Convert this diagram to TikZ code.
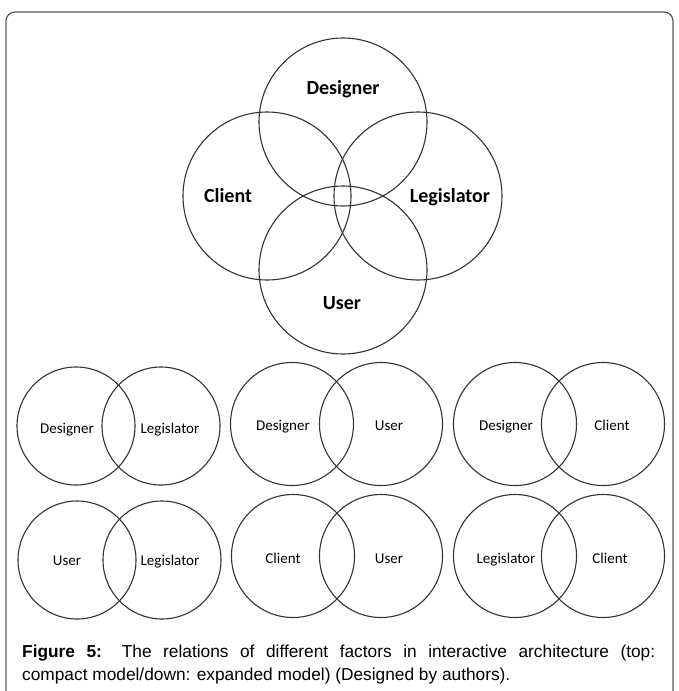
\documentclass[tikz,border=0pt]{standalone}
\usepackage{fontspec}
\setmainfont{Liberation Sans}
\newfontfamily\calibri{Carlito}
\begin{document}
\begin{tikzpicture}[x=1pt,y=-1pt,
  ring/.style={circle, draw=black!80, line width=1.1pt, inner sep=0pt, minimum size=#1},
  biglabel/.style={font=\calibri\bfseries\fontsize{20}{24}\selectfont, anchor=base, inner sep=0pt},
  smalllabel/.style={font=\calibri\fontsize{15}{18}\selectfont, anchor=base, inner sep=0pt},
  captionline/.style={font=\fontsize{17.3}{22}\selectfont, anchor=base west, inner sep=0pt},
]
\useasboundingbox (0,0) rectangle (678,691);
% frame around the figure (open at the bottom)
\draw[black!65, line width=1.2pt, rounded corners=9pt] (6,720) -- (6,12) -- (673,12) -- (673,720);

% compact model: four overlapping circles
\node[ring=168pt] (designer) at (343,122) {};
\node[ring=168pt] (client) at (267,196) {};
\node[ring=168pt] (legislator) at (418,196) {};
\node[ring=168pt] (user) at (343,270) {};
\node[biglabel] (tdesigner) at (343,94) {Designer};
\node[biglabel] (tclient) at (228,202) {Client};
\node[biglabel] (tlegislator) at (450,202) {Legislator};
\node[biglabel] (tuser) at (342,309) {User};

% expanded model, first row
\node[ring=118pt] (a1) at (76,426) {};
\node[ring=118pt] (a2) at (161,426) {};
\node[smalllabel] (ta1) at (67,433) {Designer};
\node[smalllabel] (ta2) at (170,433) {Legislator};

\node[ring=123pt] (b1) at (292,424) {};
\node[ring=123pt] (b2) at (381,424) {};
\node[smalllabel] (tb1) at (283,430) {Designer};
\node[smalllabel] (tb2) at (389,430) {User};

\node[ring=123pt] (c1) at (515,424) {};
\node[ring=123pt] (c2) at (603,424) {};
\node[smalllabel] (tc1) at (506,430) {Designer};
\node[smalllabel] (tc2) at (612,430) {Client};

% expanded model, second row
\node[ring=118pt] (d1) at (77,560) {};
\node[ring=118pt] (d2) at (162,560) {};
\node[smalllabel] (td1) at (67,565) {User};
\node[smalllabel] (td2) at (170,565) {Legislator};

\node[ring=123pt] (e1) at (293,556) {};
\node[ring=123pt] (e2) at (381,556) {};
\node[smalllabel] (te1) at (283,563) {Client};
\node[smalllabel] (te2) at (389,563) {User};

\node[ring=123pt] (f1) at (515,556) {};
\node[ring=123pt] (f2) at (603,556) {};
\node[smalllabel] (tf1) at (506,563) {Legislator};
\node[smalllabel] (tf2) at (610,563) {Client};

% caption
\node[captionline] (cap1) at (22,657) {\makebox[633pt][s]{\textbf{Figure 5:} The relations of different factors in interactive architecture (top:}};
\node[captionline] (cap2) at (22,680) {compact model/down: expanded model) (Designed by authors).};
\end{tikzpicture}
\end{document}
